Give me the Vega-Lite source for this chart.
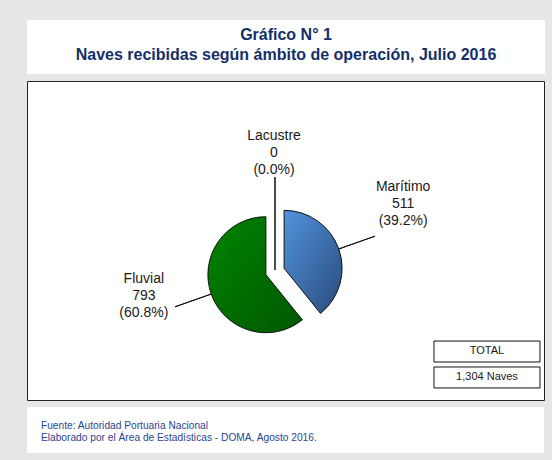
{
  "$schema": "https://vega.github.io/schema/vega-lite/v6.json",
  "background": "#e6e7e9",
  "padding": {"left": 26, "top": 20, "right": 8, "bottom": 7},
  "autosize": {"type": "pad"},
  "spacing": 7,
  "bounds": "flush",
  "config": {"font": "Liberation Sans", "view": {"stroke": null}},
  "datasets": {
    "ambitos": [
      {"ambito": "Marítimo", "naves": 511, "pct": 39.2, "orden": 1, "etiqueta": "Marítimo\n511\n(39.2%)"},
      {"ambito": "Fluvial", "naves": 793, "pct": 60.8, "orden": 2, "etiqueta": "Fluvial\n793\n(60.8%)"},
      {"ambito": "Lacustre", "naves": 0, "pct": 0.0, "orden": 3, "etiqueta": "Lacustre\n0\n(0.0%)"}
    ]
  },
  "vconcat": [
    {
      "width": 518,
      "height": 54,
      "view": {"fill": "#ffffff", "stroke": null},
      "data": {"values": [
        {"linea": 1, "texto": "Gráfico N° 1"},
        {"linea": 2, "texto": "Naves recibidas según ámbito de operación, Julio 2016"}
      ]},
      "mark": {"type": "text", "fontSize": 16, "fontWeight": "bold", "color": "#14306a", "align": "center", "baseline": "middle"},
      "encoding": {
        "y": {"field": "linea", "type": "ordinal", "axis": null, "scale": {"type": "point", "padding": 0.885, "align": 0.449}},
        "text": {"field": "texto", "type": "nominal"}
      }
    },
    {
      "width": 517,
      "height": 319,
      "view": {"fill": "#ffffff", "stroke": "#222222", "strokeWidth": 1},
      "data": {"name": "ambitos"},
      "layer": [
        {
          "transform": [
            {"stack": "naves", "groupby": [], "sort": [{"field": "orden", "order": "ascending"}], "as": ["t0", "t1"]},
            {"filter": {"field": "ambito", "equal": "Marítimo"}}
          ],
          "mark": {"type": "arc", "radius": 58, "stroke": "#111111", "strokeWidth": 1, "xOffset": -1.4, "yOffset": 27.8,
            "fill": {"gradient": "linear", "x1": 0, "y1": 0, "x2": 1, "y2": 1, "stops": [{"offset": 0, "color": "#5193dc"}, {"offset": 1, "color": "#2a4b7c"}]}},
          "encoding": {
            "theta": {"field": "t0", "type": "quantitative", "stack": null, "scale": {"domain": [0, 1304]}},
            "theta2": {"field": "t1"}
          }
        },
        {
          "transform": [
            {"stack": "naves", "groupby": [], "sort": [{"field": "orden", "order": "ascending"}], "as": ["t0", "t1"]},
            {"filter": {"field": "ambito", "equal": "Fluvial"}}
          ],
          "mark": {"type": "arc", "radius": 58, "stroke": "#111111", "strokeWidth": 1, "xOffset": -19.6, "yOffset": 34.2,
            "fill": {"gradient": "linear", "x1": 0, "y1": 0, "x2": 1, "y2": 1, "stops": [{"offset": 0, "color": "#008400"}, {"offset": 1, "color": "#005800"}]}},
          "encoding": {
            "theta": {"field": "t0", "type": "quantitative", "stack": null, "scale": {"domain": [0, 1304]}},
            "theta2": {"field": "t1"}
          }
        },
        {
          "transform": [
            {"stack": "naves", "groupby": [], "sort": [{"field": "orden", "order": "ascending"}], "as": ["t0", "t1"]},
            {"fold": ["t0", "t1"], "as": ["borde", "ang"]},
            {"aggregate": [{"op": "mean", "field": "ang", "as": "mid"}], "groupby": ["ambito", "etiqueta"]},
            {"filter": {"field": "ambito", "oneOf": ["Marítimo", "Fluvial"]}}
          ],
          "mark": {"type": "arc", "radius": 106, "radius2": 67.5, "filled": false, "stroke": "#111111", "strokeWidth": 1, "xOffset": -10.5, "yOffset": 31},
          "encoding": {
            "theta": {"field": "mid", "type": "quantitative", "stack": null, "scale": {"domain": [0, 1304]}},
            "theta2": {"field": "mid"}
          }
        },
        {
          "transform": [
            {"stack": "naves", "groupby": [], "sort": [{"field": "orden", "order": "ascending"}], "as": ["t0", "t1"]},
            {"fold": ["t0", "t1"], "as": ["borde", "ang"]},
            {"aggregate": [{"op": "mean", "field": "ang", "as": "mid"}], "groupby": ["ambito", "etiqueta"]},
            {"filter": {"field": "ambito", "equal": "Lacustre"}}
          ],
          "mark": {"type": "arc", "radius": 94.5, "radius2": 1.5, "filled": false, "stroke": "#111111", "strokeWidth": 1, "xOffset": -10.5, "yOffset": 31},
          "encoding": {
            "theta": {"field": "mid", "type": "quantitative", "stack": null, "scale": {"domain": [0, 1304]}},
            "theta2": {"field": "mid"}
          }
        },
        {
          "transform": [
            {"stack": "naves", "groupby": [], "sort": [{"field": "orden", "order": "ascending"}], "as": ["t0", "t1"]},
            {"fold": ["t0", "t1"], "as": ["borde", "ang"]},
            {"aggregate": [{"op": "mean", "field": "ang", "as": "mid"}], "groupby": ["ambito", "etiqueta"]},
            {"filter": {"field": "ambito", "oneOf": ["Marítimo", "Fluvial"]}}
          ],
          "mark": {"type": "text", "radius": 137.5, "dx": -1.5, "dy": -38.5, "xOffset": -10.5, "yOffset": 31, "fontSize": 14, "lineBreak": "\n", "lineHeight": 17, "align": "center", "baseline": "middle", "color": "#1a1a1a"},
          "encoding": {
            "theta": {"field": "mid", "type": "quantitative", "stack": null, "scale": {"domain": [0, 1304]}},
            "text": {"field": "etiqueta", "type": "nominal"}
          }
        },
        {
          "transform": [
            {"stack": "naves", "groupby": [], "sort": [{"field": "orden", "order": "ascending"}], "as": ["t0", "t1"]},
            {"fold": ["t0", "t1"], "as": ["borde", "ang"]},
            {"aggregate": [{"op": "mean", "field": "ang", "as": "mid"}], "groupby": ["ambito", "etiqueta"]},
            {"filter": {"field": "ambito", "equal": "Lacustre"}}
          ],
          "mark": {"type": "text", "radius": 119, "dx": -1, "dy": -16.5, "xOffset": -10.5, "yOffset": 31, "fontSize": 14, "lineBreak": "\n", "lineHeight": 17, "align": "center", "baseline": "middle", "color": "#1a1a1a"},
          "encoding": {
            "theta": {"field": "mid", "type": "quantitative", "stack": null, "scale": {"domain": [0, 1304]}},
            "text": {"field": "etiqueta", "type": "nominal"}
          }
        },
        {
          "data": {"values": [{"cuadro": "TOTAL\n1,304 Naves"}]},
          "mark": {"type": "point", "shape": "M-1,-0.443H1V-0.047H-1Z M-1,0.047H1V0.443H-1Z", "size": 11236, "filled": true, "fill": "#ffffff", "fillOpacity": 1, "opacity": 1, "stroke": "#111111", "strokeWidth": 1},
          "encoding": {
            "x": {"datum": "total", "type": "nominal", "axis": null, "scale": {"type": "point", "align": 0.8897}},
            "y": {"datum": "total", "type": "nominal", "axis": null, "scale": {"type": "point", "align": 0.8887}}
          }
        },
        {
          "data": {"values": [{"cuadro": "TOTAL\n1,304 Naves"}]},
          "mark": {"type": "text", "fontSize": 11, "lineBreak": "\n", "lineHeight": 26, "dy": -13, "align": "center", "baseline": "middle", "color": "#1a1a1a"},
          "encoding": {
            "x": {"datum": "total", "type": "nominal", "axis": null, "scale": {"type": "point", "align": 0.8897}},
            "y": {"datum": "total", "type": "nominal", "axis": null, "scale": {"type": "point", "align": 0.8887}},
            "text": {"field": "cuadro", "type": "nominal"}
          }
        }
      ]
    },
    {
      "width": 517,
      "height": 46,
      "view": {"fill": "#ffffff", "stroke": null},
      "data": {"values": [
        {"texto": "Fuente: Autoridad Portuaria Nacional\nElaborado por el Área de Estadísticas - DOMA, Agosto 2016."}
      ]},
      "mark": {"type": "text", "fontSize": 10.2, "lineBreak": "\n", "lineHeight": 12, "align": "left", "baseline": "middle", "color": "#2a4592"},
      "encoding": {
        "x": {"datum": "fuente", "type": "nominal", "axis": null, "scale": {"type": "point", "align": 0.027}},
        "y": {"datum": "fuente", "type": "nominal", "axis": null, "scale": {"type": "point", "align": 0.41}},
        "text": {"field": "texto", "type": "nominal"}
      }
    }
  ]
}
